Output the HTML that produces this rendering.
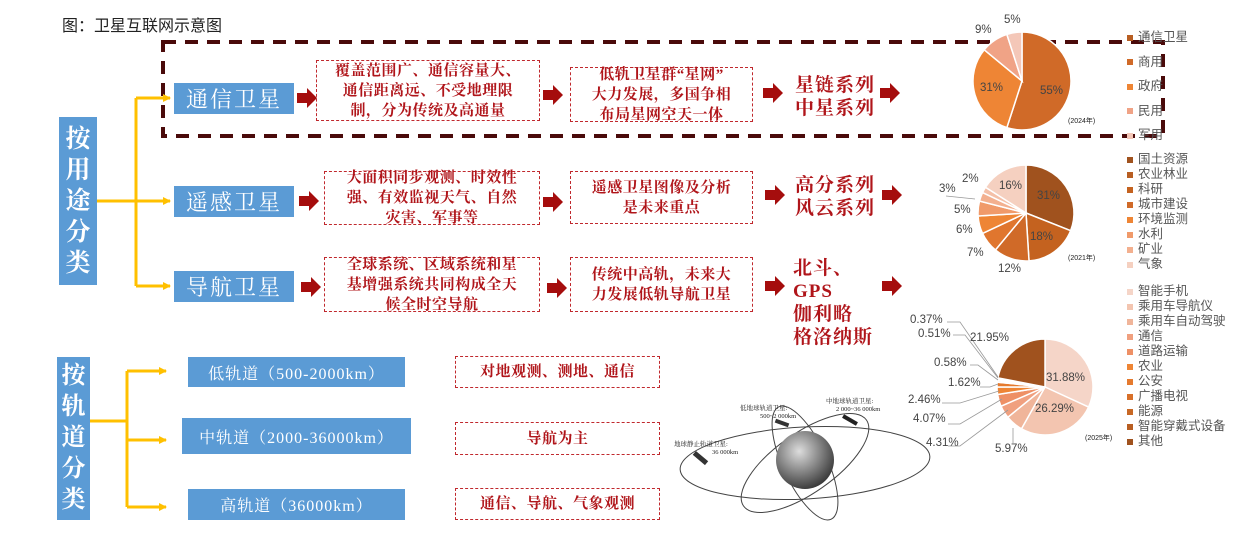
<!DOCTYPE html>
<html><head><meta charset="utf-8">
<style>
*{margin:0;padding:0;box-sizing:border-box}
body{width:1235px;height:535px;background:#fff;position:relative;overflow:hidden;font-family:"Liberation Serif","Noto Serif CJK SC",serif}
.a{position:absolute}
.blue{position:absolute;background:#5b9bd5;color:#fff;display:flex;align-items:center;justify-content:center;text-align:center}
.rd{position:absolute;border:1.5px dashed #c0282d;color:#b0151a;display:flex;align-items:center;justify-content:center;text-align:center;font-weight:bold;font-size:15px;line-height:20px;letter-spacing:0.5px}
.sys{position:absolute;color:#b0151a;font-weight:bold;font-size:19px;line-height:23px;letter-spacing:1px}
.lg{position:absolute;font-family:"Liberation Sans","Noto Sans CJK SC",sans-serif;font-size:12.5px;color:#555;line-height:15px}
.lg span{display:inline-block;width:6px;height:6px;margin-right:5px;vertical-align:middle}
.pl{position:absolute;font-family:"Liberation Sans","Noto Sans CJK SC",sans-serif;font-size:11.5px;color:#444}
.yr{position:absolute;font-family:"Liberation Sans","Noto Sans CJK SC",sans-serif;font-size:7px;color:#222}
</style></head><body>
<div class="a" style="left:62px;top:12px;font-family:'Liberation Sans','Noto Sans CJK SC',sans-serif;font-size:16px;color:#222">图：卫星互联网示意图</div>

<svg class="a" style="left:0;top:0" width="1235" height="535">
<defs>
<marker id="ya" markerWidth="8" markerHeight="8" refX="7" refY="4" orient="auto" markerUnits="userSpaceOnUse"><path d="M0,0 L8,4 L0,8z" fill="#ffc000"/></marker>
<g id="ra"><path d="M0,-5 L10,-5 L10,-10 L20,0 L10,10 L10,5 L0,5z" fill="#a50d0d"/></g>
</defs>
<rect x="163" y="42" width="1000" height="94" fill="none" stroke="#4a0a0a" stroke-width="4" stroke-dasharray="13,9"/>
<g stroke="#ffc000" stroke-width="3" fill="none">
<path d="M97,201 H136"/><path d="M136,98 V286"/>
<path d="M136,98 H170" marker-end="url(#ya)"/><path d="M136,201 H170" marker-end="url(#ya)"/><path d="M136,286 H170" marker-end="url(#ya)"/>
<path d="M90,421 H127"/><path d="M127,371 V507"/>
<path d="M127,371 H166" marker-end="url(#ya)"/><path d="M127,440 H166" marker-end="url(#ya)"/><path d="M127,507 H166" marker-end="url(#ya)"/>
</g>
<use href="#ra" x="297" y="98"/><use href="#ra" x="299" y="201"/><use href="#ra" x="301" y="287"/>
<use href="#ra" x="543" y="95"/><use href="#ra" x="543" y="202"/><use href="#ra" x="547" y="288"/>
<use href="#ra" x="763" y="93"/><use href="#ra" x="765" y="195"/><use href="#ra" x="765" y="286"/>
<use href="#ra" x="880" y="93"/><use href="#ra" x="882" y="195"/><use href="#ra" x="882" y="286"/>
<g id="pies"></g>
<g fill="none" stroke="#444" stroke-width="1">
<ellipse cx="805" cy="463" rx="125" ry="36" transform="rotate(-3 805 463)"/>
<ellipse cx="805" cy="463" rx="22" ry="62" transform="rotate(-25 805 463)"/>
<ellipse cx="805" cy="463" rx="75" ry="30" transform="rotate(-35 805 463)"/>
</g>
<defs><radialGradient id="g" cx="0.4" cy="0.35" r="0.7"><stop offset="0" stop-color="#ddd"/><stop offset="0.6" stop-color="#777"/><stop offset="1" stop-color="#333"/></radialGradient></defs>
<circle cx="805" cy="460" r="29" fill="url(#g)"/>
<rect x="775" y="421" width="14" height="4" fill="#333" transform="rotate(20 782 423)"/>
<rect x="842" y="418" width="16" height="4" fill="#222" transform="rotate(30 850 420)"/>
<rect x="693" y="455" width="16" height="5" fill="#333" transform="rotate(40 700 457)"/>
<text x="740" y="410" font-size="6.5" fill="#222">低地球轨道卫星:</text>
<text x="760" y="418" font-size="6.5" fill="#222">500~2 000km</text>
<text x="826" y="403" font-size="6.5" fill="#222">中地球轨道卫星:</text>
<text x="836" y="411" font-size="6.5" fill="#222">2 000~36 000km</text>
<text x="674" y="446" font-size="6.5" fill="#222">地球静止轨道卫星:</text>
<text x="712" y="454" font-size="6.5" fill="#222">36 000km</text>
<g stroke="#999" stroke-width="0.8" fill="none">
<path d="M947,322 L960,322 L998,377"/><path d="M953,335 L965,335 L998,378"/>
<path d="M970,365 L978,365 L998,380"/><path d="M980,387 L990,387 L998,384"/>
<path d="M942,403 L960,403 L999,391"/><path d="M948,424 L960,424 L1002,399"/>
<path d="M948,446 L960,446 L1008,410"/><path d="M1013,443 L1013,428"/>
<path d="M946,196 L975,199"/>
</g>
</svg>

<div class="blue" style="left:59px;top:117px;width:38px;height:168px;font-size:25px;line-height:31px;font-weight:bold">按<br>用<br>途<br>分<br>类</div>
<div class="blue" style="left:174px;top:83px;width:120px;height:31px;font-size:22px;letter-spacing:2px">通信卫星</div>
<div class="blue" style="left:174px;top:186px;width:120px;height:31px;font-size:22px;letter-spacing:2px">遥感卫星</div>
<div class="blue" style="left:174px;top:271px;width:120px;height:31px;font-size:22px;letter-spacing:2px">导航卫星</div>

<div class="rd" style="left:316px;top:60px;width:224px;height:61px">覆盖范围广、通信容量大、<br>通信距离远、不受地理限<br>制，分为传统及高通量</div>
<div class="rd" style="left:324px;top:171px;width:216px;height:54px">大面积同步观测、时效性<br>强、有效监视天气、自然<br>灾害、军事等</div>
<div class="rd" style="left:324px;top:257px;width:216px;height:55px">全球系统、区域系统和星<br>基增强系统共同构成全天<br>候全时空导航</div>

<div class="rd" style="left:570px;top:67px;width:183px;height:55px">低轨卫星群“星网”<br>大力发展，多国争相<br>布局星网空天一体</div>
<div class="rd" style="left:570px;top:171px;width:183px;height:53px">遥感卫星图像及分析<br>是未来重点</div>
<div class="rd" style="left:570px;top:257px;width:183px;height:55px">传统中高轨，未来大<br>力发展低轨导航卫星</div>

<div class="sys" style="left:795px;top:74px">星链系列<br>中星系列</div>
<div class="sys" style="left:795px;top:174px">高分系列<br>风云系列</div>
<div class="sys" style="left:793px;top:257px">北斗、<br>GPS<br>伽利略<br>格洛纳斯</div>

<div class="blue" style="left:57px;top:357px;width:33px;height:163px;font-size:24px;line-height:31px;font-weight:bold">按<br>轨<br>道<br>分<br>类</div>
<div class="blue" style="left:188px;top:357px;width:217px;height:30px;font-size:16px;letter-spacing:1px">低轨道（500-2000km）</div>
<div class="blue" style="left:182px;top:418px;width:229px;height:36px;font-size:16px;letter-spacing:1px">中轨道（2000-36000km）</div>
<div class="blue" style="left:188px;top:489px;width:217px;height:31px;font-size:16px;letter-spacing:1px">高轨道（36000km）</div>
<div class="rd" style="left:455px;top:356px;width:205px;height:32px;font-size:15px">对地观测、测地、通信</div>
<div class="rd" style="left:455px;top:422px;width:205px;height:33px;font-size:15px">导航为主</div>
<div class="rd" style="left:455px;top:488px;width:205px;height:32px;font-size:15px">通信、导航、气象观测</div>

<div class="lg" style="left:1127px;top:25px;line-height:24.5px"><span style="background:#b85e22"></span>通信卫星<br><span style="background:#d06a28"></span>商用<br><span style="background:#ee8535"></span>政府<br><span style="background:#f0a386"></span>民用<br><span style="background:#f4c7b8"></span>军用</div>
<div class="lg" style="left:1127px;top:152px"><span style="background:#a0521e"></span>国土资源<br><span style="background:#b85e22"></span>农业林业<br><span style="background:#c4621f"></span>科研<br><span style="background:#d06a28"></span>城市建设<br><span style="background:#ee8535"></span>环境监测<br><span style="background:#f09a6a"></span>水利<br><span style="background:#f3b08f"></span>矿业<br><span style="background:#f5d0c0"></span>气象</div>
<div class="lg" style="left:1127px;top:284px"><span style="background:#f5d5c8"></span>智能手机<br><span style="background:#f3c5b0"></span>乘用车导航仪<br><span style="background:#f0b59a"></span>乘用车自动驾驶<br><span style="background:#f0a07f"></span>通信<br><span style="background:#ee9065"></span>道路运输<br><span style="background:#ee8535"></span>农业<br><span style="background:#e57a2e"></span>公安<br><span style="background:#d8702a"></span>广播电视<br><span style="background:#c86825"></span>能源<br><span style="background:#b85e22"></span>智能穿戴式设备<br><span style="background:#a0521e"></span>其他</div>

<div class="pl" style="left:1040px;top:85px">55%</div>
<div class="pl" style="left:980px;top:82px">31%</div>
<div class="pl" style="left:975px;top:24px">9%</div>
<div class="pl" style="left:1004px;top:14px">5%</div>
<div class="yr" style="left:1068px;top:116px">(2024年)</div>

<div class="pl" style="left:1037px;top:190px">31%</div>
<div class="pl" style="left:1030px;top:231px">18%</div>
<div class="pl" style="left:998px;top:263px">12%</div>
<div class="pl" style="left:967px;top:247px">7%</div>
<div class="pl" style="left:956px;top:224px">6%</div>
<div class="pl" style="left:954px;top:204px">5%</div>
<div class="pl" style="left:939px;top:183px">3%</div>
<div class="pl" style="left:962px;top:173px">2%</div>
<div class="pl" style="left:999px;top:180px">16%</div>
<div class="yr" style="left:1068px;top:253px">(2021年)</div>

<div class="pl" style="left:1046px;top:372px">31.88%</div>
<div class="pl" style="left:1035px;top:403px">26.29%</div>
<div class="pl" style="left:995px;top:443px">5.97%</div>
<div class="pl" style="left:926px;top:437px">4.31%</div>
<div class="pl" style="left:913px;top:413px">4.07%</div>
<div class="pl" style="left:908px;top:394px">2.46%</div>
<div class="pl" style="left:948px;top:377px">1.62%</div>
<div class="pl" style="left:934px;top:357px">0.58%</div>
<div class="pl" style="left:918px;top:328px">0.51%</div>
<div class="pl" style="left:910px;top:314px">0.37%</div>
<div class="pl" style="left:970px;top:332px">21.95%</div>
<div class="yr" style="left:1085px;top:433px">(2025年)</div>

<script>
function pie(cx,cy,r,data){
 var g=document.getElementById('pies'),a=-Math.PI/2,s='';
 data.forEach(function(d){var b=a+d[0]/100*2*Math.PI;
  var x1=cx+r*Math.cos(a),y1=cy+r*Math.sin(a),x2=cx+r*Math.cos(b),y2=cy+r*Math.sin(b);
  s+='<path d="M'+cx+','+cy+' L'+x1+','+y1+' A'+r+','+r+' 0 '+((b-a)>Math.PI?1:0)+' 1 '+x2+','+y2+' Z" fill="'+d[1]+'" stroke="#fff" stroke-width="1.5"/>';a=b;});
 g.innerHTML+=s;}
pie(1022,81,49,[[55,'#d06a28'],[31,'#ee8535'],[9,'#f0a386'],[5,'#f4c7b8']]);
pie(1026,213,48,[[31,'#a0521e'],[18,'#c4621f'],[12,'#d06a28'],[7,'#e0762e'],[6,'#ee8535'],[5,'#f09a6a'],[3,'#f3b08f'],[2,'#f4c0a8'],[16,'#f5d0c0']]);
pie(1045,387,48,[[31.88,'#f5d5c8'],[26.29,'#f3c5b0'],[5.97,'#f0b59a'],[4.31,'#f0a07f'],[4.07,'#ee9065'],[2.46,'#ee8535'],[1.62,'#e57a2e'],[0.58,'#d8702a'],[0.51,'#c86825'],[0.37,'#b85e22'],[21.95,'#a0521e']]);
</script>
</body></html>
